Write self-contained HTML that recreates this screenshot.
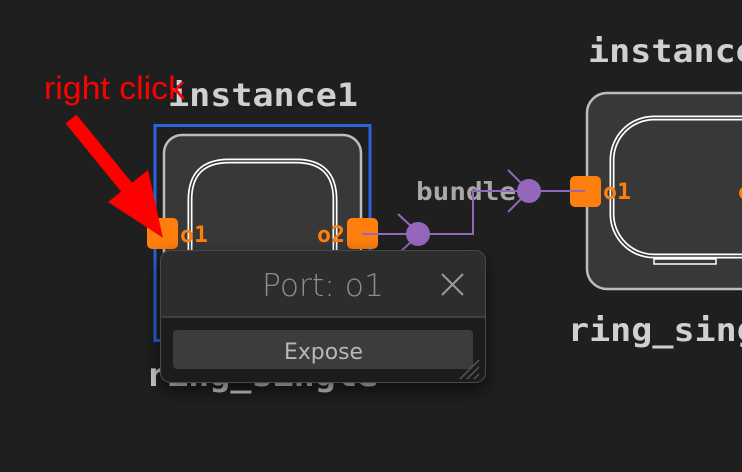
<!DOCTYPE html>
<html><head><style>
html,body{margin:0;padding:0;background:#1f1f1f;}
svg{display:block;}
</style></head><body>
<svg width="742" height="472" viewBox="0 0 742 472" xmlns="http://www.w3.org/2000/svg">
<defs>
<filter id="sh" x="-20%" y="-20%" width="140%" height="160%"><feDropShadow dx="0" dy="8" stdDeviation="10" flood-color="#000" flood-opacity="0.6"/></filter>
</defs>
<rect width="742" height="472" fill="#1f1f1f"/>
<!-- left node -->
<text x="168" y="106" textLength="190" lengthAdjust="spacingAndGlyphs" font-family="DejaVu Sans Mono, Liberation Mono, monospace" font-weight="bold" font-size="32" fill="#d0d0d0">instance1</text>
<rect x="155" y="125.5" width="215" height="215" fill="none" stroke="#2a62e0" stroke-width="3"/>
<rect x="164" y="135" width="197" height="230" rx="18" fill="#383838" stroke="#bdbdbd" stroke-width="2.5"/>
<path d="M190,300 L190,200 Q190,161 229,161 L296,161 Q335,161 335,200 L335,300" fill="none" stroke="#fff" stroke-width="5"/>
<path d="M190,300 L190,200 Q190,161 229,161 L296,161 Q335,161 335,200 L335,300" fill="none" stroke="#383838" stroke-width="1.6"/>
<text x="146" y="386" textLength="232" lengthAdjust="spacingAndGlyphs" font-family="DejaVu Sans Mono, Liberation Mono, monospace" font-weight="bold" font-size="32" fill="#d0d0d0">ring_single</text>
<!-- right node -->
<text x="588" y="62" textLength="190" lengthAdjust="spacingAndGlyphs" font-family="DejaVu Sans Mono, Liberation Mono, monospace" font-weight="bold" font-size="32" fill="#d0d0d0">instance2</text>
<rect x="587" y="93" width="200" height="196" rx="20" fill="#383838" stroke="#bdbdbd" stroke-width="2.5"/>
<rect x="612" y="118" width="200" height="138" rx="42" fill="none" stroke="#fff" stroke-width="5"/>
<rect x="612" y="118" width="200" height="138" rx="42" fill="none" stroke="#383838" stroke-width="1.6"/>
<rect x="654" y="259" width="62" height="5" fill="#383838" stroke="#fff" stroke-width="1.5"/>
<text x="568" y="341" textLength="232" lengthAdjust="spacingAndGlyphs" font-family="DejaVu Sans Mono, Liberation Mono, monospace" font-weight="bold" font-size="32" fill="#d0d0d0">ring_single</text>
<!-- wire -->
<text x="416" y="200" textLength="100" lengthAdjust="spacingAndGlyphs" font-family="DejaVu Sans Mono, Liberation Mono, monospace" font-weight="bold" font-size="25" fill="#a8a8a8">bundle</text>
<path d="M362,234 L473,234 L473,191 L585,191" fill="none" stroke="#9467bd" stroke-width="2"/>
<path d="M398,214 L412,227 M398,254 L412,241 M508,170 L522,184 M508,212 L522,198" stroke="#9467bd" stroke-width="2"/>
<circle cx="418" cy="234" r="12" fill="#9467bd"/>
<circle cx="529" cy="191" r="12" fill="#9467bd"/>
<!-- ports -->
<rect x="147" y="218" width="31" height="31" rx="5" fill="#ff7f0e"/>
<rect x="347" y="218" width="31" height="31" rx="5" fill="#ff7f0e"/>
<line x1="362" y1="234" x2="378" y2="234" stroke="#9467bd" stroke-width="2"/>
<rect x="570" y="176" width="31" height="31" rx="5" fill="#ff7f0e"/>
<line x1="570" y1="191" x2="585" y2="191" stroke="#9467bd" stroke-width="2"/>
<g font-family="DejaVu Sans Mono, Liberation Mono, monospace" font-weight="bold" font-size="22" fill="#ff7f0e">
<text x="180" y="242" textLength="28" lengthAdjust="spacingAndGlyphs">o1</text>
<text x="317" y="242" textLength="28" lengthAdjust="spacingAndGlyphs">o2</text>
<text x="603" y="199" textLength="28" lengthAdjust="spacingAndGlyphs">o1</text>
<text x="738" y="199" textLength="28" lengthAdjust="spacingAndGlyphs">o2</text>
</g>
<!-- popup -->
<g filter="url(#sh)">
<rect x="160.5" y="250.5" width="325" height="132" rx="10" fill="#1e1e1e" stroke="#484848" stroke-width="1"/>
</g>
<path d="M161,317 L161,260 Q161,251 170,251 L476,251 Q485,251 485,260 L485,317 Z" fill="#2d2d2d"/>
<line x1="161" y1="317" x2="485" y2="317" stroke="#4a4a4a" stroke-width="1.5"/>
<rect x="160.5" y="250.5" width="325" height="132" rx="10" fill="none" stroke="#484848" stroke-width="1"/>
<text x="262" y="296" textLength="122" lengthAdjust="spacingAndGlyphs" font-family="DejaVu Sans, Liberation Sans, sans-serif" font-weight="300" font-size="31" fill="#8e8e8e">Port: o1</text>
<path d="M442,274 L463,295 M463,274 L442,295" stroke="#9a9a9a" stroke-width="2"/>
<rect x="173" y="330" width="300" height="39" rx="4" fill="#3c3c3c"/>
<text x="284" y="359" textLength="79" lengthAdjust="spacingAndGlyphs" font-family="DejaVu Sans, Liberation Sans, sans-serif" font-size="22" fill="#b8b8b8">Expose</text>
<path d="M460,379 L479,360 M467,379 L479,367 M474,379 L479,374" stroke="#555" stroke-width="1.5"/>
<!-- annotation -->
<text x="44" y="99" textLength="141" lengthAdjust="spacingAndGlyphs" font-family="Liberation Sans, sans-serif" font-size="32" fill="#ff0000">right click</text>
<line x1="71" y1="119" x2="128" y2="189" stroke="#ff0000" stroke-width="14"/>
<polygon points="108,202 148,170 163,238" fill="#ff0000"/>
</svg>
</body></html>
